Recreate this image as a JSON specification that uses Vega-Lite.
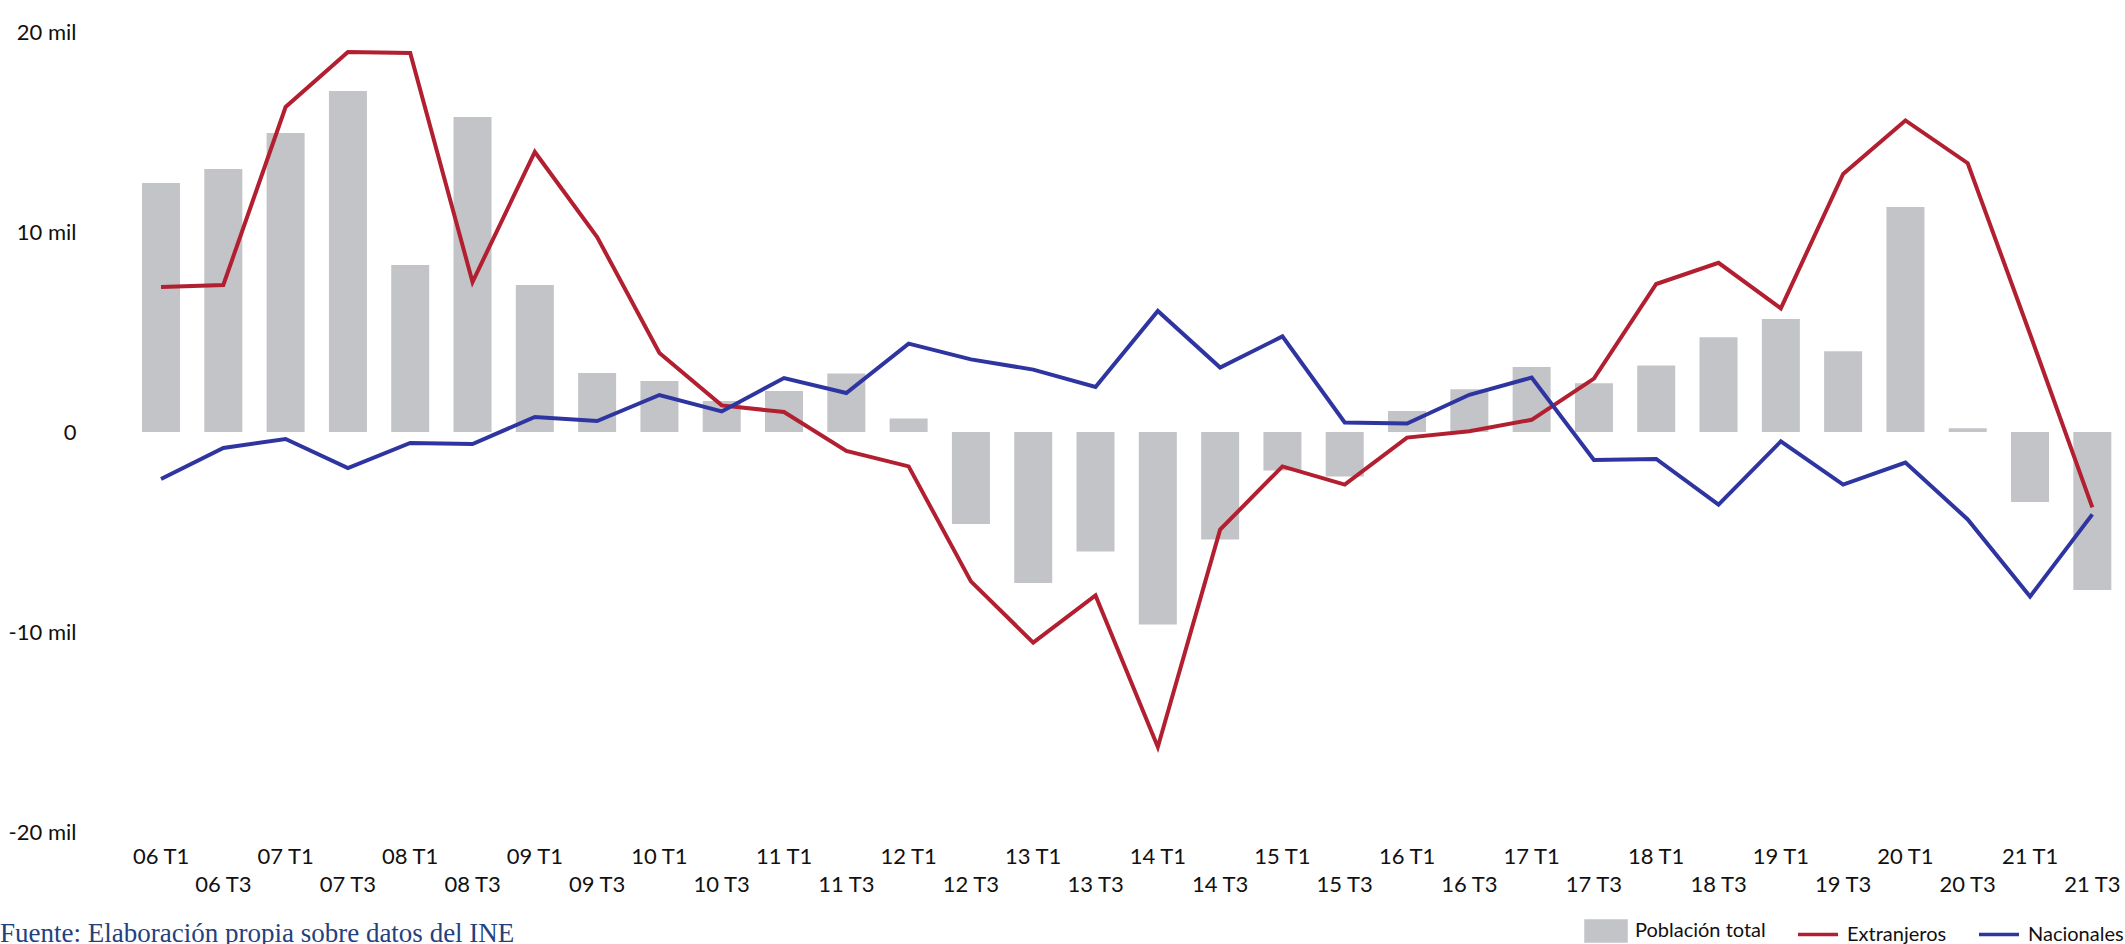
{
  "$schema": "https://vega.github.io/schema/vega-lite/v6.json",
  "width": 2027,
  "height": 800,
  "autosize": {"type": "none"},
  "padding": {"left": 98, "top": 32, "right": 0, "bottom": 112},
  "background": "white",
  "config": {
    "view": {"stroke": null},
    "font": "Lato",
    "axis": {"grid": false, "domain": false, "ticks": false, "labelFont": "Lato", "labelColor": "#111111", "labelFontSize": 22}
  },
  "title": {
    "text": "Fuente: Elaboración propia sobre datos del INE",
    "orient": "bottom",
    "anchor": "start",
    "frame": "group",
    "font": "Liberation Serif",
    "fontSize": 27,
    "fontWeight": "normal",
    "color": "#22427f",
    "baseline": "alphabetic",
    "dx": -98,
    "offset": -6
  },
  "data": {
    "values": [
      {"periodo": "06 T1", "total": 12.45, "Extranjeros": 7.25, "Nacionales": -2.35},
      {"periodo": "06 T3", "total": 13.15, "Extranjeros": 7.35, "Nacionales": -0.8},
      {"periodo": "07 T1", "total": 14.95, "Extranjeros": 16.25, "Nacionales": -0.35},
      {"periodo": "07 T3", "total": 17.05, "Extranjeros": 19.0, "Nacionales": -1.8},
      {"periodo": "08 T1", "total": 8.35, "Extranjeros": 18.95, "Nacionales": -0.55},
      {"periodo": "08 T3", "total": 15.75, "Extranjeros": 7.5, "Nacionales": -0.6},
      {"periodo": "09 T1", "total": 7.35, "Extranjeros": 14.0, "Nacionales": 0.75},
      {"periodo": "09 T3", "total": 2.95, "Extranjeros": 9.75, "Nacionales": 0.55},
      {"periodo": "10 T1", "total": 2.55, "Extranjeros": 3.95, "Nacionales": 1.85},
      {"periodo": "10 T3", "total": 1.55, "Extranjeros": 1.33, "Nacionales": 1.03},
      {"periodo": "11 T1", "total": 2.05, "Extranjeros": 1.0, "Nacionales": 2.7},
      {"periodo": "11 T3", "total": 2.93, "Extranjeros": -0.95, "Nacionales": 1.95},
      {"periodo": "12 T1", "total": 0.67, "Extranjeros": -1.72, "Nacionales": 4.42},
      {"periodo": "12 T3", "total": -4.6, "Extranjeros": -7.47, "Nacionales": 3.63},
      {"periodo": "13 T1", "total": -7.55, "Extranjeros": -10.53, "Nacionales": 3.12},
      {"periodo": "13 T3", "total": -5.97, "Extranjeros": -8.17, "Nacionales": 2.25},
      {"periodo": "14 T1", "total": -9.62, "Extranjeros": -15.75, "Nacionales": 6.05},
      {"periodo": "14 T3", "total": -5.38, "Extranjeros": -4.88, "Nacionales": 3.22},
      {"periodo": "15 T1", "total": -1.93, "Extranjeros": -1.72, "Nacionales": 4.78},
      {"periodo": "15 T3", "total": -2.23, "Extranjeros": -2.63, "Nacionales": 0.48},
      {"periodo": "16 T1", "total": 1.05, "Extranjeros": -0.28, "Nacionales": 0.42},
      {"periodo": "16 T3", "total": 2.14, "Extranjeros": 0.04, "Nacionales": 1.86},
      {"periodo": "17 T1", "total": 3.25, "Extranjeros": 0.61, "Nacionales": 2.72},
      {"periodo": "17 T3", "total": 2.44, "Extranjeros": 2.67, "Nacionales": -1.4},
      {"periodo": "18 T1", "total": 3.33, "Extranjeros": 7.4, "Nacionales": -1.35},
      {"periodo": "18 T3", "total": 4.74, "Extranjeros": 8.46, "Nacionales": -3.63},
      {"periodo": "19 T1", "total": 5.65, "Extranjeros": 6.18, "Nacionales": -0.47},
      {"periodo": "19 T3", "total": 4.04, "Extranjeros": 12.9, "Nacionales": -2.63},
      {"periodo": "20 T1", "total": 11.25, "Extranjeros": 15.58, "Nacionales": -1.53},
      {"periodo": "20 T3", "total": 0.19, "Extranjeros": 13.44, "Nacionales": -4.37},
      {"periodo": "21 T1", "total": -3.5, "Extranjeros": 4.9, "Nacionales": -8.23},
      {"periodo": "21 T3", "total": -7.9, "Extranjeros": -3.77, "Nacionales": -4.12}
    ]
  },
  "encoding": {
    "x": {
      "field": "periodo",
      "type": "ordinal",
      "sort": null,
      "title": null,
      "scale": {"paddingInner": 0.39, "paddingOuter": 0.463, "align": 0.763},
      "axis": {
        "labelAngle": 0,
        "labelPadding": 14,
        "labelBaseline": "top",
        "labelLineHeight": 28,
        "labelExpr": "indexof(datum.value, 'T3') >= 0 ? ['', datum.value] : datum.value"
      }
    }
  },
  "layer": [
    {
      "mark": {"type": "bar", "color": "#c3c4c7"},
      "encoding": {
        "y": {
          "field": "total",
          "type": "quantitative",
          "title": null,
          "scale": {"domain": [-20, 20], "nice": false},
          "axis": {"values": [-20, -10, 0, 10, 20], "labelPadding": 22, "labelExpr": "datum.value == 0 ? '0' : datum.value + ' mil'"}
        },
        "color": {
          "datum": "Población total",
          "title": null,
          "scale": {"domain": ["Población total", "Extranjeros", "Nacionales"], "range": ["#c3c4c7", "#b11f30", "#2f35a0"]},
          "legend": {
            "orient": "none",
            "legendX": 1486,
            "legendY": 877,
            "direction": "horizontal",
            "title": null,
            "labelFont": "Lato",
            "labelFontSize": 20,
            "labelColor": "#111111",
            "labelOffset": 7,
            "columnPadding": 25,
            "symbolSize": 1600,
            "symbolStrokeWidth": 3.5,
            "encode": {
              "symbols": {
                "update": {
                  "shape": {"signal": "datum.value === 'Población total' ? 'M-1,-0.5H1V0.5H-1Z' : 'M-1,0H1'"},
                  "fill": {"signal": "datum.value === 'Población total' ? '#c3c4c7' : 'transparent'"},
                  "stroke": {"signal": "datum.value === 'Población total' ? 'transparent' : (datum.value === 'Extranjeros' ? '#b11f30' : '#2f35a0')"},
                  "strokeWidth": {"value": 3.5},
                  "opacity": {"value": 1}
                }
              }
            }
          }
        }
      }
    },
    {
      "mark": {"type": "rule", "color": "#000000", "strokeWidth": 3},
      "encoding": {"y": {"datum": 0}}
    },
    {
      "transform": [{"fold": ["Extranjeros", "Nacionales"], "as": ["serie", "valor"]}],
      "mark": {"type": "line", "strokeWidth": 4, "strokeJoin": "miter"},
      "encoding": {
        "y": {"field": "valor", "type": "quantitative"},
        "color": {"field": "serie", "type": "nominal", "title": null}
      }
    }
  ]
}
